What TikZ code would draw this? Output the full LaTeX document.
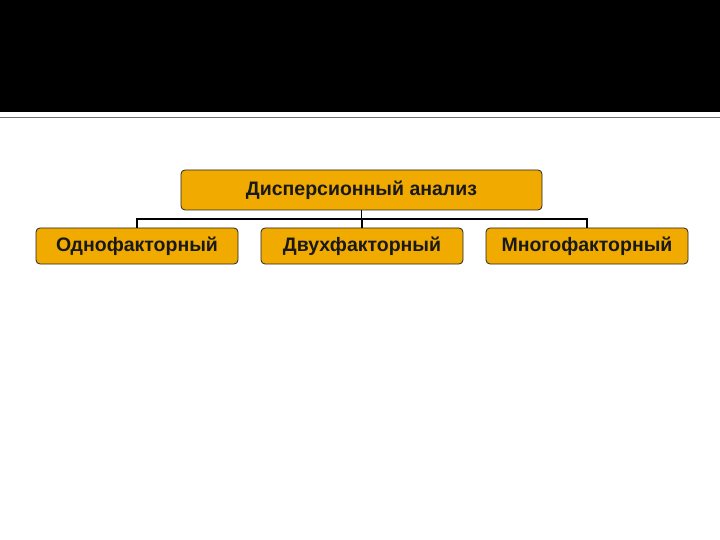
\documentclass[tikz,border=0pt]{standalone}
\usepackage{fontspec}
\setmainfont{Liberation Sans}
\definecolor{boxfill}{HTML}{F0AA00}
\definecolor{rulegray}{HTML}{707070}
\begin{document}
\begin{tikzpicture}[x=1pt,y=-1pt,
  box/.style={draw=black!85,line width=0.8pt,fill=boxfill,rounded corners=4pt,inner sep=0pt,font=\bfseries\fontsize{19.5}{22}\selectfont,text=black!90},
  conn/.style={draw=black,line width=1.2pt}]
\useasboundingbox (0,0) rectangle (720,540);
\fill[white] (0,0) rectangle (720,540);
\fill[black] (0,0) rectangle (720,112.5);
\draw[rulegray,line width=1.2pt] (0,117.5) -- (720,117.5);
\node[box,minimum width=361pt,minimum height=40pt] (top) at (361.5,190) {Дисперсионный анализ};
\node[box,minimum width=202pt,minimum height=36pt] (b1) at (137,246) {Однофакторный};
\node[box,minimum width=202pt,minimum height=36pt] (b2) at (362,246) {Двухфакторный};
\node[box,minimum width=202pt,minimum height=36pt] (b3) at (587,246) {Многофакторный};
\coordinate (j) at (361.5,219);
\draw[conn] (top.south) -- (j);
\draw[conn] (b1.north) |- (j) -| (b3.north);
\draw[conn] (j -| b2.north) -- (b2.north);
\end{tikzpicture}
\end{document}
